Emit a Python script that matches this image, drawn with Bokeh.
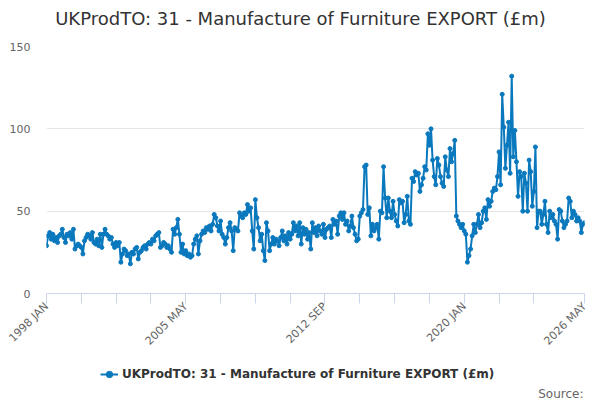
import math
from bokeh.plotting import figure
from bokeh.layouts import column
from bokeh.models import Range1d, FixedTicker, Label, Legend, LegendItem, ColumnDataSource
from bokeh.embed import file_html
from bokeh.resources import INLINE

# Monthly values (GBP million), Jan 1998 .. May 2026
y1998 = [29, 35, 37, 33, 36, 32, 34, 31, 35, 36, 39, 34]
y1999 = [31, 36, 35, 37, 33, 39, 27, 29, 30, 29, 28, 24]
y2000 = [32, 34, 36, 35, 33, 37, 31, 30, 33, 29, 36, 28]
y2001 = [36, 39, 36, 35, 33, 34, 30, 28, 31, 29, 31, 19]
y2002 = [24, 27, 26, 23, 24, 18, 25, 24, 27, 28, 21, 25]
y2003 = [26, 28, 29, 27, 30, 31, 30, 33, 32, 35, 36, 37]
y2004 = [28, 29, 31, 30, 28, 29, 27, 25, 39, 36, 40, 45]
y2005 = [36, 25, 30, 24, 26, 23, 24, 22, 23, 30, 33, 35]
y2006 = [24, 32, 36, 38, 37, 40, 39, 41, 38, 42, 48, 46]
y2007 = [41, 38, 44, 36, 34, 30, 34, 40, 43, 38, 26, 40]
y2008 = [39, 38, 49, 47, 46, 49, 48, 54, 50, 52, 38, 27]
y2009 = [57, 46, 40, 32, 36, 26, 20, 43, 38, 26, 30, 34]
y2010 = [30, 33, 32, 29, 34, 38, 32, 35, 30, 37, 33, 36]
y2011 = [43, 38, 41, 35, 43, 30, 40, 36, 39, 33, 37, 27]
y2012 = [43, 37, 40, 35, 41, 38, 36, 42, 34, 39, 40, 41]
y2013 = [34, 45, 42, 44, 36, 47, 49, 45, 49, 42, 44, 38]
y2014 = [41, 47, 40, 36, 32, 33, 47, 49, 51, 77, 78, 48]
y2015 = [52, 35, 42, 38, 40, 42, 33, 50, 49, 77, 58, 46]
y2016 = [58, 50, 46, 56, 48, 44, 41, 57, 55, 56, 43, 48]
y2017 = [59, 44, 42, 70, 68, 74, 72, 73, 62, 66, 70, 77]
y2018 = [75, 97, 90, 100, 81, 71, 66, 82, 78, 71, 67, 65]
y2019 = [83, 75, 71, 88, 80, 85, 93, 47, 44, 42, 40, 42]
y2020 = [38, 36, 19, 23, 27, 35, 42, 37, 42, 48, 40, 43]
y2021 = [50, 52, 45, 57, 53, 56, 62, 64, 63, 71, 86, 66]
y2022 = [121, 101, 76, 90, 104, 73, 132, 83, 99, 80, 59, 74]
y2023 = [71, 50, 73, 67, 50, 81, 74, 53, 62, 89, 40, 50]
y2024 = [50, 42, 48, 56, 42, 37, 50, 46, 48, 44, 42, 33]
y2025 = [51, 50, 44, 40, 42, 44, 58, 56, 46, 50, 48, 44]
y2026 = [46, 44, 37, 42, 43]

tick_months = [0, 88, 176, 264, 340]
tick_labels = ["1998 JAN", "2005 MAY", "2012 SEP", "2020 JAN", "2026 MAY"]
minor_months = [22, 44, 66, 110, 132, 154, 198, 220, 242, 286, 308]
y_ticks = [0, 50, 100, 150]

series_name = "UKProdTO: 31 - Manufacture of Furniture EXPORT (£m)"
title_text = "UKProdTO: 31 - Manufacture of Furniture EXPORT (£m)"
source_text = "Source:"

values = (y1998 + y1999 + y2000 + y2001 + y2002 + y2003 + y2004 + y2005 + y2006 +
          y2007 + y2008 + y2009 + y2010 + y2011 + y2012 + y2013 + y2014 + y2015 +
          y2016 + y2017 + y2018 + y2019 + y2020 + y2021 + y2022 + y2023 + y2024 +
          y2025 + y2026)
months = list(range(len(values)))
src = ColumnDataSource(data=dict(m=months, v=values))

FONT = "DejaVu Sans"
BLUE = "#0a78bd"
W = 600
LEFT = 46  # frame left edge (shared by all stacked figures)


def blank(h, xr=(0, 1), yr=(0, 1)):
    f = figure(width=W, height=h, output_backend="svg", toolbar_location=None,
               x_axis_type=None, y_axis_type=None, min_border=0,
               x_range=Range1d(*xr), y_range=Range1d(*yr))
    f.outline_line_color = None
    f.xgrid.visible = False
    f.ygrid.visible = False
    return f


# ---- title strip ----
t = blank(38)
t.add_layout(Label(x=300 - LEFT, y=20, x_units="screen", y_units="screen", text=title_text,
                   text_align="center", text_baseline="alphabetic", text_font=FONT,
                   text_font_size="18px", text_color="#333333"))

# ---- chart ----
p = figure(width=W, height=317, output_backend="svg", toolbar_location=None,
           x_range=Range1d(0, 340), y_range=Range1d(0, 150),
           min_border_left=LEFT, min_border_right=16, min_border_top=8, min_border_bottom=62)
p.outline_line_color = None

p.line("m", "v", source=src, line_color=BLUE, line_width=2)
p.scatter("m", "v", source=src, size=4, fill_color=BLUE, line_color=BLUE)

xa = p.xaxis[0]
xa.ticker = FixedTicker(ticks=tick_months, minor_ticks=minor_months)
xa.major_label_overrides = {m: l for m, l in zip(tick_months, tick_labels)}
xa.major_label_orientation = math.pi / 4
xa.axis_line_color = "#ccd6eb"
xa.major_tick_line_color = "#ccd6eb"
xa.minor_tick_line_color = "#ccd6eb"
xa.major_tick_out = 10
xa.major_tick_in = 0
xa.minor_tick_out = 10
xa.minor_tick_in = 0
xa.major_label_standoff = 1
xa.major_label_text_font = FONT
xa.major_label_text_font_size = "11px"
xa.major_label_text_color = "#666666"

ya = p.yaxis[0]
ya.ticker = FixedTicker(ticks=y_ticks, minor_ticks=[])
ya.axis_line_color = None
ya.major_tick_line_color = None
ya.minor_tick_line_color = None
ya.major_tick_out = 0
ya.major_tick_in = 0
ya.major_label_standoff = 16
ya.major_label_text_font = FONT
ya.major_label_text_font_size = "11px"
ya.major_label_text_color = "#666666"

p.xgrid.grid_line_color = None
p.ygrid.grid_line_color = "#e6e6e6"
p.ygrid.grid_line_width = 1

# ---- legend + credit strip ----
# the series is re-attached here (outside this strip's visible range) only so the
# legend can draw its line-and-marker key
q = blank(45, xr=(0, 340), yr=(-1000, -999))
icon_line = q.line("m", "v", source=src, line_color=BLUE, line_width=2)
icon_pts = q.scatter("m", "v", source=src, size=5, fill_color=BLUE, line_color=BLUE)
legend = Legend(items=[LegendItem(label=series_name, renderers=[icon_line, icon_pts])],
                location=(100 - LEFT, 18), orientation="horizontal",
                border_line_color=None, background_fill_alpha=0,
                padding=0, margin=0, glyph_width=18, glyph_height=16,
                label_standoff=4, label_height=16, label_text_font=FONT,
                label_text_font_style="bold", label_text_font_size="12px",
                label_text_color="#333333")
q.add_layout(legend)
q.add_layout(Label(x=583 - LEFT, y=7, x_units="screen", y_units="screen", text=source_text,
                   text_align="right", text_baseline="alphabetic", text_font=FONT,
                   text_font_size="12px", text_color="#666666"))

layout = column(t, p, q, spacing=0)
open("out.html", "w").write(file_html(layout, INLINE))
